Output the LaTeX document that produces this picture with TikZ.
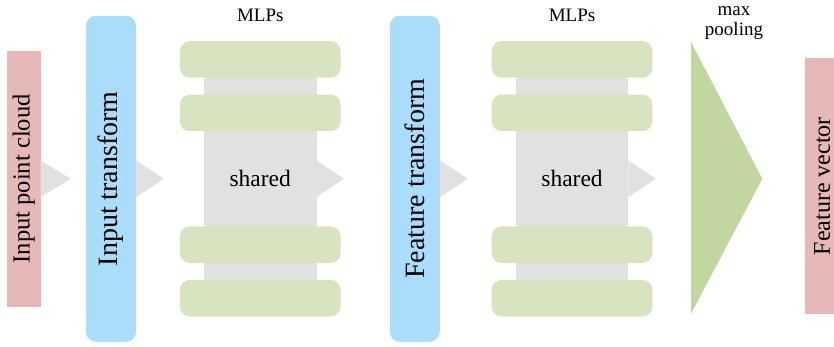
\documentclass[tikz,border=0pt]{standalone}
\usepackage{fontspec}
\setmainfont{Liberation Serif}
\usetikzlibrary{positioning, calc}
\definecolor{cloudpink}{HTML}{E6B9B8}
\definecolor{transblue}{HTML}{A9DDFB}
\definecolor{mlpgreen}{HTML}{D8E4BF}
\definecolor{poolgreen}{HTML}{C4D69F}
\definecolor{sharedgray}{HTML}{E1E1E1}
\tikzset{
    x=1pt, y=1pt, % one unit is one pixel of the layout
    every node/.style={inner sep=0pt, outer sep=0pt},
    iobox/.style={fill=cloudpink, minimum width=34pt, minimum height=255.7pt}, % input and output boxes
    tfbox/.style={fill=transblue, rounded corners=10pt, minimum width=50pt, minimum height=326pt}, % transform nets
    sharedbox/.style={fill=sharedgray, minimum width=112.5pt, minimum height=238.7pt, font=\fontsize{23.5}{28}\selectfont},
    mlpbar/.style={fill=mlpgreen, rounded corners=10pt, minimum width=160.7pt, minimum height=36.7pt},
    caption/.style={font=\fontsize{19}{20}\selectfont, align=center},
    tiptri/.style={fill=sharedgray}, % the gray arrow heads between the blocks
    }

\begin{document}
\begin{tikzpicture}
\useasboundingbox (0,0) rectangle (834,347);

\node[iobox, label={[rotate=90, font=\fontsize{24.5}{29}\selectfont]center:Input point cloud}] (pc) at (23.7,168.2) {};
\node[tfbox, right=45.3pt of pc, label={[rotate=90, font=\fontsize{28}{33}\selectfont]center:Input transform}] (it) {};
\node[sharedbox, right=68pt of it] (mlpa) {};
\node[tfbox, right=73.3pt of mlpa, label={[rotate=90, font=\fontsize{28}{33}\selectfont]center:Feature transform}] (ft) {};
\node[sharedbox, right=76pt of ft] (mlpb) {};
\coordinate[right=62.7pt of mlpb] (pool);
\node[iobox, right=114pt of pool, yshift=-7.4pt, label={[rotate=90, font=\fontsize{24}{29}\selectfont]center:Feature vector}] (fv) {};

% green layers on top of the shared blocks
\foreach \m in {mlpa, mlpb} {
    \foreach \dy [count=\i] in {119.4, 65.9, -65.9, -119.4}
        \node[mlpbar] (\m-\i) at ([yshift=\dy pt]\m.center) {};
    \node[font=\fontsize{23.5}{28}\selectfont] (\m-txt) at (\m.center) {shared};
    \node[caption] (\m-cap) at (\m |- 0,331.3) {MLPs};
}

% arrow heads
\foreach \from/\len in {pc/30, it/28, mlpa/27.3, ft/28.3, mlpb/27.7}
    \fill[tiptri] ($(\from.east)+(0,18.3)$) -- ++(\len,-18.3) -- ++(-\len,-18.3) -- cycle;

% max pooling
\fill[poolgreen] ($(pool)+(0,137)$) -- ($(pool)+(71.3,0)$) -- ($(pool)+(0,-135)$) -- cycle;
\node[caption] (pool-cap) at ([xshift=43pt]pool |- 0,324) {max\\pooling};

\end{tikzpicture}
\end{document}
